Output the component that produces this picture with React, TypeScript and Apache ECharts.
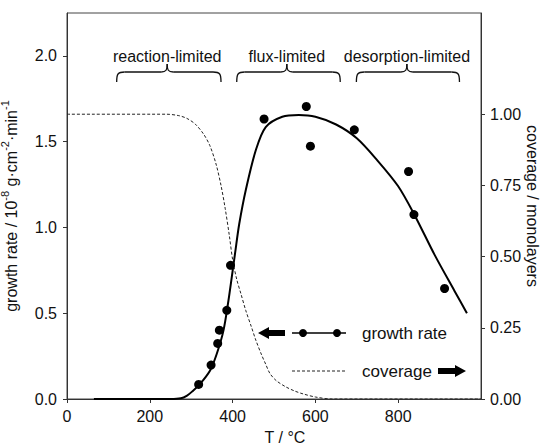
import React, { useEffect, useRef } from "react";
import * as echarts from "echarts";

// measured growth rate (10^-8 g cm^-2 min^-1) vs temperature (°C)
const measT = [318, 348, 364, 368, 386, 395, 476, 578, 588, 694, 825, 838, 912];
const measRate = [0.085, 0.198, 0.324, 0.401, 0.517, 0.779, 1.632, 1.705, 1.474, 1.569, 1.326, 1.075, 0.644];

// fitted growth-rate curve
const fitT = [65, 150, 250, 275, 290, 302, 322, 346, 362, 378, 390, 398, 406, 416, 432, 456, 480, 520, 560, 600, 650, 700, 750, 800, 840, 888, 936, 966];
const fitRate = [0, 0, 0, 0.004, 0.02, 0.043, 0.09, 0.168, 0.265, 0.4, 0.574, 0.71, 0.85, 1.02, 1.22, 1.45, 1.585, 1.645, 1.655, 1.645, 1.6, 1.52, 1.39, 1.24, 1.07, 0.84, 0.63, 0.5];

// coverage (monolayers)
const covT = [0, 240, 270, 290, 310, 330, 345, 360, 372, 382, 392, 400, 410, 420, 432, 445, 456, 470, 480, 490, 505, 528, 550, 570, 600, 640, 1000];
const coverage = [1, 1, 0.995, 0.985, 0.965, 0.93, 0.89, 0.825, 0.75, 0.67, 0.575, 0.49, 0.42, 0.37, 0.31, 0.255, 0.207, 0.155, 0.122, 0.09, 0.065, 0.043, 0.028, 0.018, 0.007, 0, 0];

// regime annotations (temperature ranges)
const regimeLabels = ["reaction-limited", "flux-limited", "desorption-limited"];
const regimeFrom = [120, 410, 699];
const regimeTip = [242, 531, 821];
const regimeTo = [372, 660, 948];

const covTicks = [0, 0.25, 0.5, 0.75, 1.0];

const FONT = "'Liberation Sans', Arial, Helvetica, sans-serif";
const INK = "#111";
const AXIS = "#333";

export default function App() {
  const ref = useRef<HTMLDivElement>(null);

  useEffect(() => {
    const chart = echarts.init(ref.current!, null, { renderer: "svg" });
    const covMax = 2.25 / 1.66;
    chart.setOption({
      animation: false,
      backgroundColor: "#fff",
      grid: {
        left: 67,
        right: 59,
        top: 13,
        bottom: 46,
        show: true,
        borderColor: "#444",
        borderWidth: 1,
        containLabel: false,
        outerBoundsMode: "none",
      },
      xAxis: {
        type: "value",
        min: 0,
        max: 1000,
        interval: 200,
        name: "T / °C",
        nameLocation: "middle",
        nameGap: 30,
        nameTextStyle: { fontSize: 16, fontFamily: FONT, color: INK, padding: [0, 0, 0, 22] },
        axisLine: { lineStyle: { color: AXIS } },
        axisTick: { length: 4, lineStyle: { color: AXIS } },
        axisLabel: { fontSize: 16, fontFamily: FONT, color: INK, margin: 9, showMaxLabel: false },
        splitLine: { show: false },
      },
      yAxis: [
        {
          type: "value",
          min: 0,
          max: 2.25,
          interval: 0.5,
          name: "growth rate / 10{s|-8} g·cm{s|-2}·min{s|-1}",
          nameLocation: "middle",
          nameGap: 34,
          nameTextStyle: {
            fontSize: 16,
            fontFamily: FONT,
            color: INK,
            lineHeight: 24,
            rich: { s: { fontSize: 11, fontFamily: FONT, color: INK, verticalAlign: "top", lineHeight: 11 } },
          },
          axisLine: { show: true, lineStyle: { color: AXIS } },
          axisTick: { length: 4, lineStyle: { color: AXIS } },
          axisLabel: {
            fontSize: 16,
            fontFamily: FONT,
            color: INK,
            margin: 10,
            showMaxLabel: false,
            formatter: (v: number) => (v > 2.01 ? "" : v.toFixed(1)),
          },
          splitLine: { show: false },
        },
        {
          type: "value",
          position: "right",
          min: 0,
          max: covMax,
          interval: 0.25,
          axisLine: { show: true, lineStyle: { color: AXIS } },
          axisTick: { length: 4, lineStyle: { color: AXIS }, customValues: covTicks },
          axisLabel: {
            fontSize: 16,
            fontFamily: FONT,
            color: INK,
            margin: 9,
            customValues: covTicks,
            formatter: (v: number) => (v > 1.001 ? "" : v.toFixed(2)),
          },
          splitLine: { show: false },
        },
      ],
      series: [
        {
          type: "line",
          yAxisIndex: 1,
          data: covT.map((t, i) => [t, coverage[i]]),
          smooth: 0.3,
          showSymbol: false,
          lineStyle: { color: "#222", width: 1, type: [3, 2] },
          z: 2,
        },
        {
          type: "line",
          yAxisIndex: 0,
          data: fitT.map((t, i) => [t, fitRate[i]]),
          smooth: 0.3,
          showSymbol: false,
          lineStyle: { color: "#000", width: 2 },
          z: 3,
        },
        {
          type: "scatter",
          yAxisIndex: 0,
          data: measT.map((t, i) => [t, measRate[i]]),
          symbol: "circle",
          symbolSize: 9,
          itemStyle: { color: "#000", opacity: 1 },
          z: 4,
        },
      ],
    });

    const px = (t: number) => chart.convertToPixel({ xAxisIndex: 0 }, t) as number;
    const yText = 56;
    const yTip = 64;
    const yLine = 72;
    const yEnd = 82;
    const stroke = { stroke: INK, lineWidth: 1.3, fill: null as any };
    const graphics: any[] = [];
    regimeLabels.forEach((label, i) => {
      const x1 = px(regimeFrom[i]);
      const xm = px(regimeTip[i]);
      const x2 = px(regimeTo[i]);
      graphics.push({
        type: "text",
        x: xm,
        y: yText,
        style: { text: label, fontSize: 16, fontFamily: FONT, fill: INK, align: "center", verticalAlign: "middle" },
      });
      graphics.push(
        { type: "bezierCurve", shape: { x1, y1: yEnd, cpx1: x1, cpy1: yLine + 2, cpx2: x1 + 1, cpy2: yLine, x2: x1 + 8, y2: yLine }, style: stroke },
        { type: "line", shape: { x1: x1 + 8, y1: yLine, x2: xm - 6, y2: yLine }, style: stroke },
        { type: "bezierCurve", shape: { x1: xm - 6, y1: yLine, cpx1: xm - 1, cpy1: yLine, cpx2: xm, cpy2: yLine - 2, x2: xm, y2: yTip }, style: stroke },
        { type: "bezierCurve", shape: { x1: xm, y1: yTip, cpx1: xm, cpy1: yLine - 2, cpx2: xm + 1, cpy2: yLine, x2: xm + 6, y2: yLine }, style: stroke },
        { type: "line", shape: { x1: xm + 6, y1: yLine, x2: x2 - 8, y2: yLine }, style: stroke },
        { type: "bezierCurve", shape: { x1: x2 - 8, y1: yLine, cpx1: x2 - 1, cpy1: yLine, cpx2: x2, cpy2: yLine + 2, x2, y2: yEnd }, style: stroke }
      );
    });

    // right axis title
    graphics.push({
      type: "text",
      x: 532,
      y: 206,
      rotation: -Math.PI / 2,
      style: { text: "coverage / monolayers", fontSize: 16, fontFamily: FONT, fill: INK, align: "center", verticalAlign: "middle" },
    });

    // legend
    const gy = 333;
    const cy = 371;
    graphics.push(
      {
        type: "polygon",
        shape: { points: [[258, gy], [269, gy - 6], [269, gy - 3], [285, gy - 3], [285, gy + 3], [269, gy + 3], [269, gy + 6]] },
        style: { fill: "#000" },
      },
      { type: "line", shape: { x1: 292, y1: gy, x2: 346, y2: gy }, style: { stroke: "#000", lineWidth: 1.3 } },
      { type: "circle", shape: { cx: 303, cy: gy, r: 4 }, style: { fill: "#000" } },
      { type: "circle", shape: { cx: 337, cy: gy, r: 4 }, style: { fill: "#000" } },
      {
        type: "text",
        x: 362,
        y: gy,
        style: { text: "growth rate", fontSize: 17, fontFamily: FONT, fill: INK, align: "left", verticalAlign: "middle" },
      },
      { type: "line", shape: { x1: 292, y1: cy, x2: 346, y2: cy }, style: { stroke: "#222", lineWidth: 1, lineDash: [3, 2] } },
      {
        type: "text",
        x: 362,
        y: cy,
        style: { text: "coverage", fontSize: 17, fontFamily: FONT, fill: INK, align: "left", verticalAlign: "middle" },
      },
      {
        type: "polygon",
        shape: { points: [[466, cy], [455, cy - 6], [455, cy - 3], [438, cy - 3], [438, cy + 3], [455, cy + 3], [455, cy + 6]] },
        style: { fill: "#000" },
      }
    );
    chart.setOption({ graphic: graphics });

    return () => chart.dispose();
  }, []);

  return <div ref={ref} style={{ position: "fixed", left: 0, top: 0, width: 540, height: 445 }} />;
}
